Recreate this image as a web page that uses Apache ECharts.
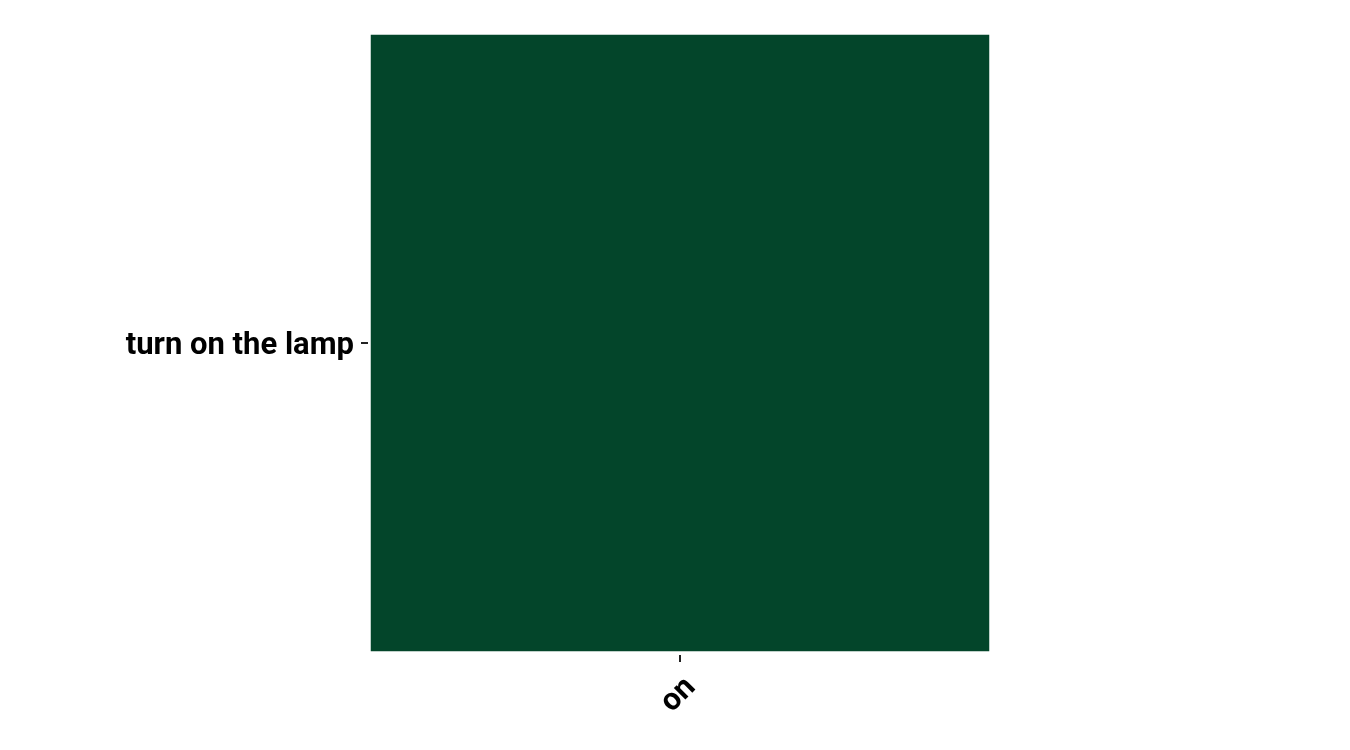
<!DOCTYPE html>
<html>
<head>
<meta charset="utf-8">
<script src="https://cdn.jsdelivr.net/npm/echarts@6/dist/echarts.min.js"></script>
<style>html,body{margin:0;padding:0;background:#fff;}#c{width:1350px;height:750px;}</style>
</head>
<body>
<div id="c"></div>
<script>
const xCategories = ["on"];
const yCategories = ["turn on the lamp"];
const values = [[0, 0, 1]];

const chart = echarts.init(document.getElementById('c'));
chart.setOption({
  animation: false,
  backgroundColor: '#ffffff',
  grid: { left: 371, top: 35, width: 618, height: 616, containLabel: false },
  xAxis: {
    type: 'category',
    data: xCategories,
    offset: 4,
    axisLine: { show: false },
    axisTick: { show: true, length: 7, alignWithLabel: true, lineStyle: { color: '#222', width: 2 } },
    axisLabel: { rotate: 45, verticalAlign: 'top', fontFamily: 'Roboto', fontWeight: 'bold', fontSize: 31, color: '#000', margin: 17 },
    splitLine: { show: false }
  },
  yAxis: {
    type: 'category',
    data: yCategories,
    offset: 3,
    axisLine: { show: false },
    axisTick: { show: true, length: 7, alignWithLabel: true, lineStyle: { color: '#222', width: 2 } },
    axisLabel: { fontFamily: 'Roboto', fontWeight: 'bold', fontSize: 31, color: '#000', margin: 14, verticalAlign: 'top', lineHeight: 6 },
    splitLine: { show: false }
  },
  visualMap: { show: false, min: 0, max: 1, inRange: { color: ['#03452a', '#03452a'] } },
  series: [{
    type: 'heatmap',
    data: values,
    itemStyle: { borderWidth: 0 },
    emphasis: { disabled: true }
  }]
});
</script>
</body>
</html>
